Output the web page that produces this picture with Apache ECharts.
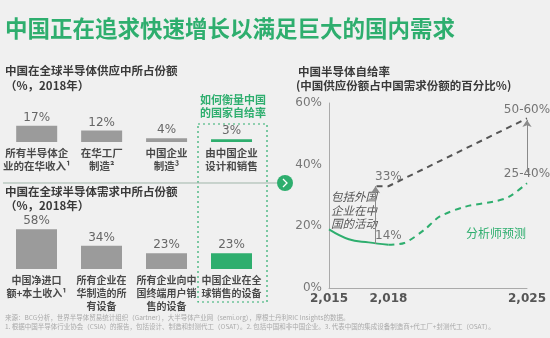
<!DOCTYPE html>
<html><head><meta charset="utf-8">
<script src="https://cdn.jsdelivr.net/npm/echarts@6/dist/echarts.min.js"></script>
<style>html,body{margin:0;padding:0;background:#f0f0f0;}#c{width:550px;height:338px;}</style>
</head><body><div id="c"></div>
<script>
const supplyCategories = ['所有半导体企\n业的在华收入¹', '在华工厂\n制造²', '中国企业\n制造³', '由中国企业\n设计和销售'];
const supplyValues = [17, 12, 4, 3];
const demandCategories = ['中国净进口\n额+本土收入¹', '所有企业在\n华制造的所\n有设备', '所有企业向中\n国终端用户销\n售的设备', '中国企业在全\n球销售的设备'];
const demandValues = [58, 34, 23, 23];
const yearTicks = [2015, 2018, 2025];
const actualRatio = [[2015, 19], [2016, 15.8], [2017, 14.8], [2018, 14]];
const forecastLow = [[2018, 14], [2018.8, 14.6], [2019.8, 18.8], [2020.6, 23.2], [2021.9, 26.4], [2023.3, 28], [2024.1, 29.6], [2025, 34]];
const forecastHigh = [[2017.4, 33], [2018, 33], [2025, 55]];
const valueLabels = [[2018, 33, '33%'], [2018, 14, '14%'], [2025, 55, '50-60%'], [2025, 34, '25-40%']];
const foreignArrow = [[2017.35, 14.3], [2017.35, 33]];
const rangeArrow = [[2025, 37.5], [2025, 54.5]];

const GREEN = '#2eae6e';
const GRAY = '#9b9b9b';
const FONT = 'Noto Sans CJK SC';
const chart = echarts.init(document.getElementById('c'));

function barColor(p) { return p.dataIndex === 3 ? GREEN : GRAY; }
function catAxis(idx, data, size) {
  return { type: 'category', gridIndex: idx, data: data, axisLine: { show: false }, axisTick: { show: false },
    axisLabel: { interval: 0, fontSize: size, fontWeight: 'bold', color: '#4a4a4a', lineHeight: 13, margin: 5, fontFamily: FONT } };
}
function valAxis(idx, max) {
  return { type: 'value', gridIndex: idx, min: 0, max: max, show: false, splitLine: { show: false } };
}

chart.setOption({
  backgroundColor: '#f0f0f0',
  textStyle: { fontFamily: FONT },
  grid: [
    { left: 4, width: 260, top: 123, height: 19 },
    { left: 4, width: 260, top: 228, height: 41 },
    { left: 329, width: 198, top: 103, height: 185 }
  ],
  xAxis: [
    catAxis(0, supplyCategories, 10.5),
    catAxis(1, demandCategories, 10),
    { type: 'value', gridIndex: 2, min: 2015, max: 2025,
      axisLine: { show: true, lineStyle: { color: '#aaa', width: 1 } }, axisTick: { show: false }, splitLine: { show: false },
      axisLabel: { customValues: yearTicks, fontSize: 12, fontWeight: 'bold', color: '#555', margin: 5, fontFamily: 'DejaVu Sans' } }
  ],
  yAxis: [
    valAxis(0, 20),
    valAxis(1, 60),
    { type: 'value', gridIndex: 2, min: 0, max: 60, interval: 20,
      axisLine: { show: true, lineStyle: { color: '#aaa', width: 1 } }, axisTick: { show: false }, splitLine: { show: false },
      axisLabel: { formatter: '{value}%', fontSize: 12, color: '#777', margin: 7, fontFamily: 'DejaVu Sans' } }
  ],
  series: [
    { type: 'bar', xAxisIndex: 0, yAxisIndex: 0, data: supplyValues, barWidth: 41, itemStyle: { color: barColor },
      label: { show: true, position: 'top', distance: 2, formatter: '{c}%', fontSize: 12, color: '#666', fontFamily: 'DejaVu Sans' } },
    { type: 'bar', xAxisIndex: 1, yAxisIndex: 1, data: demandValues, barWidth: 41, itemStyle: { color: barColor },
      label: { show: true, position: 'top', distance: 2, formatter: '{c}%', fontSize: 12, color: '#666', fontFamily: 'DejaVu Sans' } },
    { type: 'line', xAxisIndex: 2, yAxisIndex: 2, data: actualRatio, smooth: 0.4, showSymbol: false,
      lineStyle: { color: GREEN, width: 2 } },
    { type: 'line', xAxisIndex: 2, yAxisIndex: 2, data: forecastLow, smooth: 0.3, showSymbol: false,
      lineStyle: { color: GREEN, width: 2, type: [6, 5] },
      markLine: { silent: true, symbol: ['none', 'arrow'], symbolSize: 7, label: { show: false },
        lineStyle: { color: '#8a8a8a', width: 1, type: 'solid' },
        data: [
          [{ coord: foreignArrow[0] }, { coord: foreignArrow[1] }],
          [{ coord: rangeArrow[0] }, { coord: rangeArrow[1] }]
        ] } },
    { type: 'line', xAxisIndex: 2, yAxisIndex: 2, data: forecastHigh, showSymbol: false,
      lineStyle: { color: '#555', width: 2, type: [6, 5] } },
    { type: 'scatter', xAxisIndex: 2, yAxisIndex: 2, data: valueLabels, symbolSize: 0,
      label: { show: true, position: 'top', distance: 3, formatter: p => p.value[2], fontSize: 12, color: '#555', fontFamily: 'DejaVu Sans' } }
  ],
  graphic: [
    { type: 'text', left: 5, top: 17, style: { text: '中国正在追求快速增长以满足巨大的国内需求', fontSize: 22.5, fontWeight: 'bold', fill: GREEN, fontFamily: FONT } },
    { type: 'text', left: 5, top: 65, style: { text: '中国在全球半导体供应中所占份额', fontSize: 11.5, fontWeight: 'bold', fill: '#3a3a3a', fontFamily: FONT } },
    { type: 'text', left: 5, top: 80, style: { text: '（%，2018年）', fontSize: 11.5, fontWeight: 'bold', fill: '#3a3a3a', fontFamily: FONT } },
    { type: 'text', left: 5, top: 186, style: { text: '中国在全球半导体需求中所占份额', fontSize: 11.5, fontWeight: 'bold', fill: '#3a3a3a', fontFamily: FONT } },
    { type: 'text', left: 5, top: 200, style: { text: '（%，2018年）', fontSize: 11.5, fontWeight: 'bold', fill: '#3a3a3a', fontFamily: FONT } },
    { type: 'text', x: 233, y: 93, style: { text: '如何衡量中国\n的国家自给率', align: 'center', fontSize: 11, lineHeight: 13, fontWeight: 'bold', fill: GREEN, fontFamily: FONT } },
    { type: 'rect', shape: { x: 198, y: 124, width: 69, height: 178 }, style: { fill: 'none', stroke: GREEN, lineWidth: 1.2, lineDash: [2, 3] } },
    { type: 'line', shape: { x1: 3, y1: 183, x2: 277, y2: 183 }, style: { stroke: '#9fb5a9', lineWidth: 1 } },
    { type: 'circle', shape: { cx: 285, cy: 183, r: 8 }, style: { fill: GREEN } },
    { type: 'polyline', shape: { points: [[283, 179], [287, 183], [283, 187]] }, style: { stroke: '#fff', lineWidth: 1.3, fill: 'none' } },
    { type: 'text', left: 298, top: 66, style: { text: '中国半导体自给率', fontSize: 11.5, fontWeight: 'bold', fill: '#3a3a3a', fontFamily: FONT } },
    { type: 'text', left: 296, top: 80, style: { text: '(中国供应份额占中国需求份额的百分比%)', fontSize: 11.5, fontWeight: 'bold', fill: '#3a3a3a', fontFamily: FONT } },
    { type: 'text', left: 331, top: 190, style: { text: '包括外国\n企业在中\n国的活动', fontSize: 11.5, lineHeight: 13.5, fontStyle: 'italic', fill: '#555', fontFamily: FONT } },
    { type: 'text', x: 496, y: 227, style: { text: '分析师预测', align: 'center', fontSize: 12, fill: GREEN, fontFamily: FONT } },
    { type: 'text', left: 5, top: 314, style: { text: '来源：BCG分析，世界半导体贸易统计组织（Gartner），大半导体产业网（semi.org），摩根士丹利RIC Insights的数据。', fontSize: 6.5, fill: '#aaa', fontFamily: FONT } },
    { type: 'text', left: 5, top: 323, style: { text: '1. 根据中国半导体行业协会（CSIA）的报告，包括设计、制造和封测代工（OSAT）。2. 包括中国和非中国企业。3. 代表中国的集成设备制造商+代工厂+封测代工（OSAT）。', fontSize: 6.5, fill: '#aaa', fontFamily: FONT } }
  ]
});
</script></body></html>
